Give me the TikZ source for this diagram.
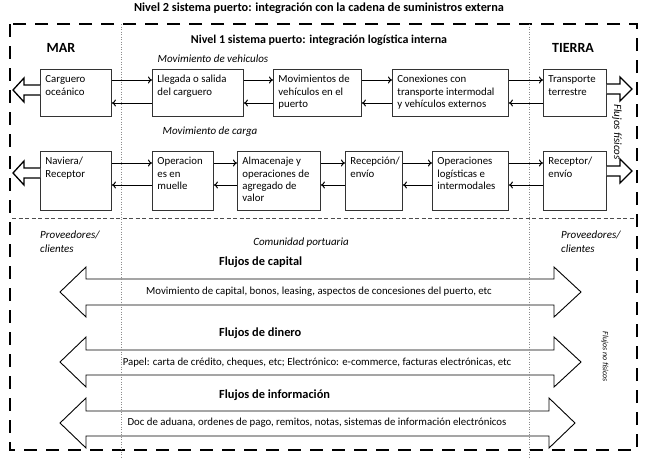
\documentclass[tikz,border=0pt]{standalone}
\usepackage{fontspec}
\setmainfont{Carlito}
\usetikzlibrary{arrows.meta}
\newcommand{\pbx}[6]{\node[pbox] (#1) at (#2,#3) {\parbox[t][\dimexpr#5pt-10pt\relax][t]{\dimexpr#4pt-10pt\relax}{\begin{tabular}[t]{@{}l@{}}#6\end{tabular}}};}
\begin{document}
\begin{tikzpicture}[x=1pt,y=-1pt,
  pbox/.style={draw=black!80, line width=0.9pt, fill=white, inner xsep=5pt, inner ysep=5pt, anchor=north west, font=\fontsize{10.8}{12.2}\selectfont},
  conn/.style={-{To[length=4pt,width=7pt]}, line width=1pt},
  hollow/.style={draw=black, line width=1.3pt, fill=white, line join=miter},
  bigarrow/.style={draw=black, line width=0.9pt, line join=miter},
  ttl/.style={font=\bfseries\fontsize{12.3}{14}\selectfont, inner sep=0pt},
  side/.style={font=\bfseries\fontsize{14}{16}\selectfont, inner sep=0pt},
  flu/.style={font=\bfseries\fontsize{12.4}{14}\selectfont, inner sep=0pt, anchor=west},
  itl/.style={font=\itshape\fontsize{11}{13.5}\selectfont, inner sep=0pt},
  atx/.style={font=\fontsize{10.8}{12}\selectfont, inner sep=0pt},
  frame/.style={line width=2.6pt, dash pattern=on 13pt off 9pt},
  sep/.style={draw=black!70, line width=0.8pt, dash pattern=on 4pt off 2.5pt},
  dotv/.style={draw=black!45, line width=0.8pt, dash pattern=on 1pt off 1.5pt}]
\useasboundingbox (0,0) rectangle (650,464);

% frame and separators
\draw[frame] (10,24) rectangle (637,450);
\draw[sep] (12,218) -- (636,218);

% titles
\node[ttl] (t2) at (319,8) {Nivel 2 sistema puerto: integración con la cadena de suministros externa};
\node[ttl, font=\bfseries\fontsize{12}{14}\selectfont] (t1) at (319,40) {Nivel 1 sistema puerto: integración logística interna};
\node[side] (mar) at (61,48) {MAR};
\node[side] (tierra) at (573,48) {TIERRA};
\node[itl] (mv) at (213,59) {Movimiento de vehiculos};
\node[itl] (mc) at (210,132) {Movimiento de carga};

% row 1
\pbx{carg}{40}{69}{71}{47}{Carguero\\oceánico}
\pbx{lleg}{152}{69}{91}{47}{Llegada o salida\\del carguero}
\pbx{movv}{273}{69}{88}{47}{Movimientos de\\vehículos en el\\puerto}
\pbx{conx}{392}{69}{116}{47}{Conexiones con\\transporte intermodal\\y vehículos externos}
\pbx{trans}{543}{69}{63}{47}{Transporte\\terrestre}

% row 2
\pbx{nav}{40}{151}{71}{59}{Naviera/\\Receptor}
\pbx{opm}{152}{151}{61}{59}{Operacion\\es en\\muelle}
\pbx{alm}{237}{151}{83}{59}{Almacenaje y\\operaciones de\\agregado de\\valor}
\pbx{rec}{345}{151}{57}{59}{Recepción/\\envío}
\pbx{opl}{432}{151}{76}{59}{Operaciones\\logísticas e\\intermodales}
\pbx{recp}{543}{151}{63}{59}{Receptor/\\envío}

\coordinate (f1) at (0,80);
\coordinate (b1) at (0,103);
\coordinate (f2) at (0,163);
\coordinate (b2) at (0,185);
\foreach \a/\b in {carg/lleg, lleg/movv, movv/conx, conx/trans}{
  \draw[conn] (\a.east|-f1) -- (\b.west|-f1);
  \draw[conn] (\b.west|-b1) -- (\a.east|-b1);
}
\foreach \a/\b in {nav/opm, opm/alm, alm/rec, rec/opl, opl/recp}{
  \draw[conn] (\a.east|-f2) -- (\b.west|-f2);
  \draw[conn] (\b.west|-b2) -- (\a.east|-b2);
}

% hollow physical-flow arrows
\draw[hollow] (carg.west|-0,85) -- (24,85) -- (24,78) -- (13,90) -- (24,102) -- (24,95) -- (carg.west|-0,95);
\draw[hollow] (nav.west|-0,168) -- (24,168) -- (24,161) -- (13,173) -- (24,185) -- (24,178) -- (nav.west|-0,178);
\draw[hollow] (trans.east|-0,84) -- (620,84) -- (620,77) -- (632,89) -- (620,101) -- (620,94) -- (trans.east|-0,94);
\draw[hollow] (recp.east|-0,166) -- (620,166) -- (620,159) -- (632,171) -- (620,183) -- (620,176) -- (recp.east|-0,176);

\node[itl, rotate=-90] (ff) at (617,132) {Flujos físicos};

% lower part
\node[itl, anchor=north west, align=left] (pl) at (40,231) {Proveedores/\\clientes};
\node[itl, anchor=north west, align=left] (pr) at (561,231) {Proveedores/\\clientes};
\node[itl] (cp) at (301,243) {Comunidad portuaria};

\node[flu] (fc) at (219,262) {Flujos de capital};
\node[flu] (fd) at (219,333) {Flujos de dinero};
\node[flu] (fi) at (219,395) {Flujos de información};

\draw[bigarrow] (86,279) -- (554,279) -- (554,267) -- (581,292) -- (554,317) -- (554,305) -- (86,305) -- (86,317) -- (60,292) -- (86,267) -- cycle;
\draw[bigarrow] (86,350) -- (554,350) -- (554,337) -- (581,362) -- (554,387) -- (554,375) -- (86,375) -- (86,387) -- (60,362) -- (86,337) -- cycle;
\draw[bigarrow] (86,411) -- (549,411) -- (549,398) -- (575,423) -- (549,448) -- (549,436) -- (86,436) -- (86,448) -- (60,423) -- (86,398) -- cycle;

\node[atx] (ac) at (319,292) {Movimiento de capital, bonos, leasing, aspectos de concesiones del puerto, etc};
\node[atx] (ad) at (317,363) {Papel: carta de crédito, cheques, etc; Electrónico: e-commerce, facturas electrónicas, etc};
\node[atx] (ai) at (317,423) {Doc de aduana, ordenes de pago, remitos, notas, sistemas de información electrónicos};

\node[font=\itshape\fontsize{8}{9}\selectfont, inner sep=0pt, rotate=-90] (fnf) at (605,357) {Flujos no físicos};

% dotted verticals
\draw[dotv] (121,24) -- (121,458);
\draw[dotv] (529,24) -- (529,458);
\end{tikzpicture}
\end{document}
